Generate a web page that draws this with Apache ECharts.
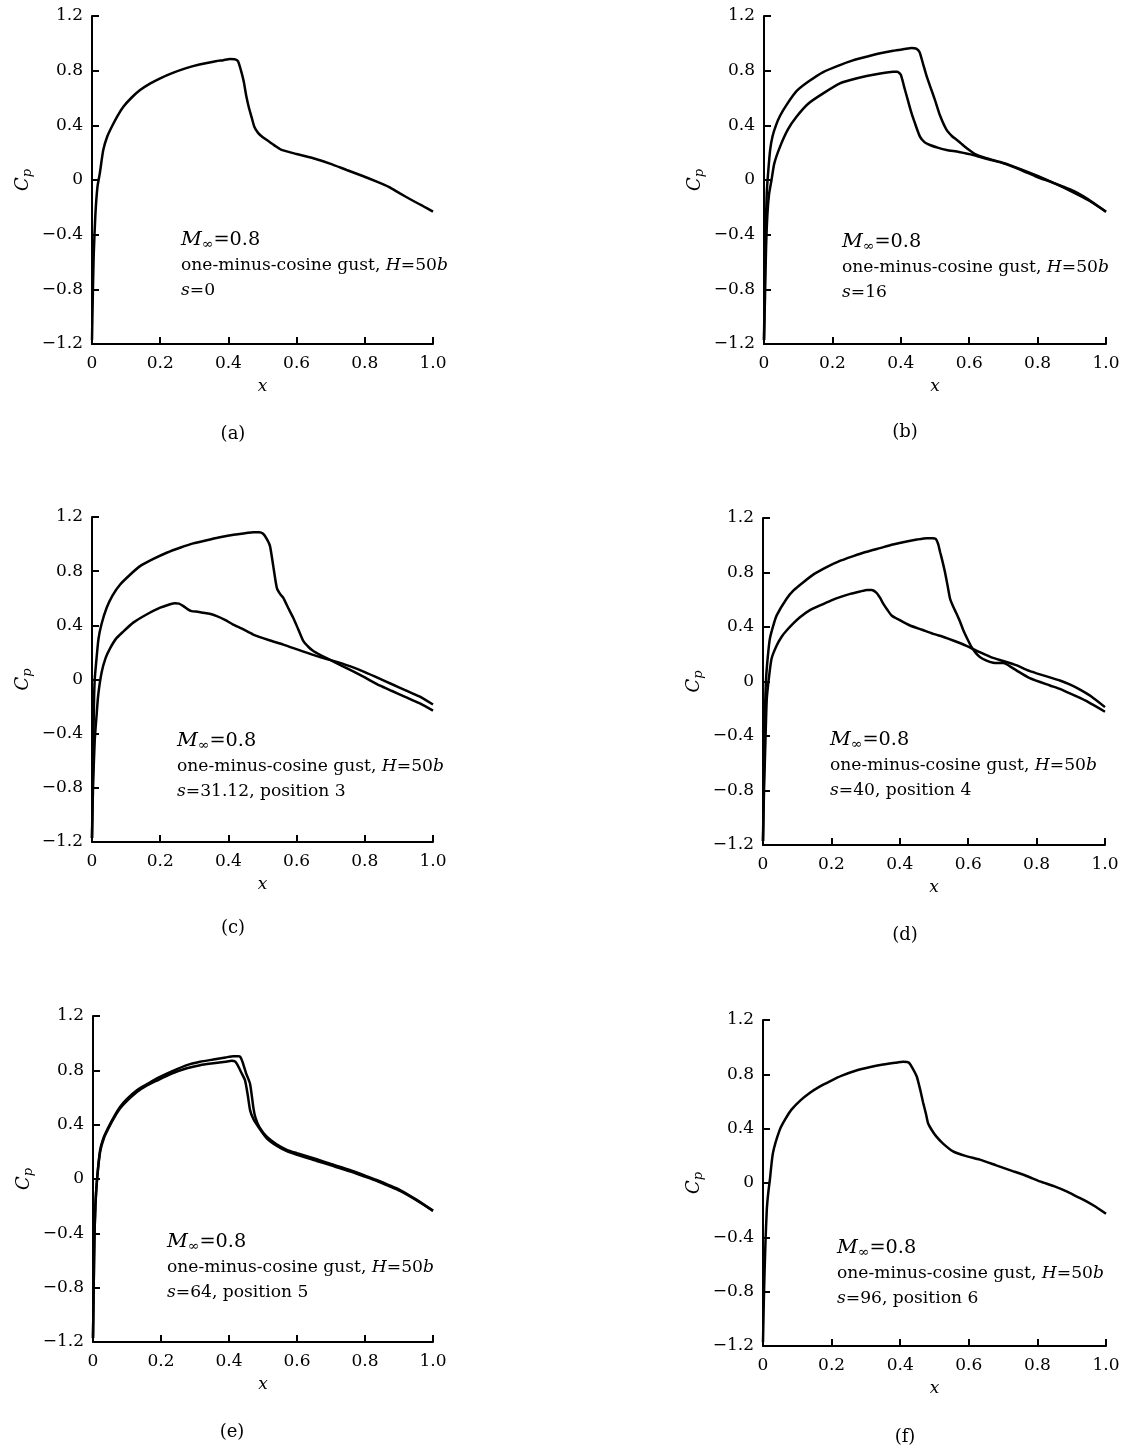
<!DOCTYPE html>
<html>
<head>
<meta charset="utf-8">
<script src="https://cdn.jsdelivr.net/npm/echarts@6/dist/echarts.min.js"></script>
<style>
  html, body { margin: 0; padding: 0; background: #fff; }
  #main { width: 1123px; height: 1448px; }
</style>
</head>
<body>
<div id="main"></div>
<script>
// ---- data (x = chord position, cp = pressure coefficient) ----
// (a) s = 0
var xA  = [0, 0.002, 0.005, 0.01, 0.016, 0.023, 0.033, 0.045, 0.058, 0.075, 0.092, 0.115, 0.141, 0.17, 0.2, 0.235, 0.274, 0.315, 0.356, 0.385, 0.405, 0.418, 0.428, 0.437, 0.445, 0.452, 0.46, 0.468, 0.476, 0.487, 0.5, 0.52, 0.54, 0.556, 0.6, 0.649, 0.7, 0.747, 0.79, 0.835, 0.87, 0.903, 0.94, 0.97, 1.0];
var cpA = [-1.17, -0.9, -0.55, -0.25, -0.05, 0.05, 0.22, 0.32, 0.39, 0.47, 0.536, 0.6, 0.658, 0.705, 0.744, 0.782, 0.817, 0.845, 0.866, 0.877, 0.885, 0.884, 0.87, 0.80, 0.72, 0.62, 0.53, 0.46, 0.39, 0.345, 0.315, 0.28, 0.245, 0.22, 0.19, 0.159, 0.118, 0.073, 0.033, -0.012, -0.05, -0.098, -0.15, -0.19, -0.232];

// (b) s = 16
var xBu  = [0, 0.002, 0.004, 0.008, 0.012, 0.018, 0.025, 0.035, 0.047, 0.066, 0.095, 0.13, 0.173, 0.222, 0.26, 0.3, 0.34, 0.378, 0.41, 0.432, 0.445, 0.455, 0.465, 0.476, 0.488, 0.5, 0.515, 0.534, 0.55, 0.563, 0.575, 0.593, 0.617, 0.65, 0.7, 0.75, 0.8, 0.85, 0.9, 0.95, 1.0];
var cpBu = [-1.17, -0.8, -0.45, -0.1, 0.05, 0.22, 0.32, 0.4, 0.47, 0.55, 0.65, 0.72, 0.79, 0.841, 0.875, 0.902, 0.927, 0.946, 0.958, 0.966, 0.962, 0.935, 0.85, 0.756, 0.67, 0.585, 0.47, 0.366, 0.32, 0.295, 0.27, 0.232, 0.19, 0.16, 0.125, 0.08, 0.03, -0.025, -0.085, -0.15, -0.232];
var xBl  = [0, 0.003, 0.006, 0.01, 0.015, 0.022, 0.03, 0.047, 0.07, 0.095, 0.13, 0.173, 0.222, 0.25, 0.3, 0.34, 0.378, 0.39, 0.4, 0.41, 0.42, 0.43, 0.44, 0.456, 0.47, 0.485, 0.51, 0.534, 0.57, 0.612, 0.65, 0.7, 0.75, 0.797, 0.84, 0.875, 0.905, 0.934, 0.965, 1.0];
var cpBl = [-1.17, -0.85, -0.5, -0.25, -0.1, 0.0, 0.12, 0.244, 0.37, 0.463, 0.56, 0.634, 0.707, 0.73, 0.761, 0.78, 0.792, 0.792, 0.77, 0.68, 0.59, 0.5, 0.425, 0.317, 0.275, 0.256, 0.235, 0.22, 0.205, 0.183, 0.155, 0.122, 0.075, 0.024, -0.015, -0.049, -0.08, -0.12, -0.17, -0.232];

// (c) s = 31.12
var xCu  = [0, 0.002, 0.004, 0.006, 0.008, 0.012, 0.019, 0.028, 0.043, 0.06, 0.082, 0.11, 0.141, 0.18, 0.219, 0.26, 0.297, 0.34, 0.375, 0.42, 0.473, 0.49, 0.502, 0.512, 0.522, 0.532, 0.542, 0.552, 0.561, 0.575, 0.59, 0.605, 0.62, 0.635, 0.649, 0.67, 0.698, 0.73, 0.766, 0.8, 0.845, 0.88, 0.92, 0.96, 1.0];
var cpCu = [-1.17, -0.8, -0.45, -0.15, 0.0, 0.12, 0.3, 0.41, 0.53, 0.62, 0.70, 0.77, 0.837, 0.89, 0.936, 0.975, 1.005, 1.03, 1.05, 1.07, 1.088, 1.088, 1.076, 1.04, 0.985, 0.83, 0.677, 0.63, 0.603, 0.53, 0.456, 0.37, 0.283, 0.24, 0.21, 0.18, 0.145, 0.105, 0.06, 0.015, -0.046, -0.085, -0.13, -0.175, -0.23];
var xCl  = [0, 0.003, 0.008, 0.013, 0.018, 0.028, 0.04, 0.053, 0.07, 0.09, 0.121, 0.16, 0.2, 0.229, 0.243, 0.255, 0.268, 0.28, 0.292, 0.31, 0.326, 0.345, 0.366, 0.39, 0.414, 0.44, 0.473, 0.52, 0.561, 0.61, 0.659, 0.698, 0.718, 0.76, 0.8, 0.845, 0.88, 0.92, 0.96, 1.0];
var cpCl = [-1.17, -0.8, -0.45, -0.28, -0.12, 0.05, 0.16, 0.23, 0.3, 0.35, 0.42, 0.48, 0.53, 0.556, 0.564, 0.56, 0.542, 0.52, 0.505, 0.5, 0.493, 0.485, 0.468, 0.44, 0.406, 0.375, 0.332, 0.29, 0.258, 0.215, 0.173, 0.145, 0.13, 0.095, 0.055, 0.005, -0.035, -0.08, -0.125, -0.185];

// (d) s = 40
var xDu  = [0, 0.002, 0.004, 0.006, 0.009, 0.014, 0.02, 0.03, 0.04, 0.069, 0.09, 0.118, 0.15, 0.186, 0.22, 0.264, 0.3, 0.342, 0.38, 0.42, 0.45, 0.479, 0.495, 0.505, 0.512, 0.518, 0.525, 0.532, 0.54, 0.547, 0.556, 0.566, 0.576, 0.586, 0.598, 0.61, 0.622, 0.634, 0.652, 0.673, 0.688, 0.703, 0.72, 0.742, 0.78, 0.839, 0.868, 0.917, 0.95, 1.0];
var cpDu = [-1.17, -0.8, -0.45, -0.2, 0.02, 0.18, 0.313, 0.41, 0.485, 0.607, 0.67, 0.729, 0.79, 0.84, 0.88, 0.92, 0.95, 0.979, 1.005, 1.028, 1.042, 1.052, 1.052, 1.047, 1.01, 0.949, 0.88, 0.803, 0.7, 0.607, 0.55, 0.497, 0.44, 0.374, 0.31, 0.252, 0.21, 0.18, 0.155, 0.137, 0.135, 0.135, 0.115, 0.08, 0.025, -0.029, -0.054, -0.11, -0.15, -0.222];
var xDl  = [0, 0.003, 0.007, 0.011, 0.017, 0.025, 0.04, 0.055, 0.069, 0.09, 0.108, 0.135, 0.167, 0.2, 0.225, 0.255, 0.284, 0.305, 0.318, 0.332, 0.342, 0.352, 0.364, 0.376, 0.4, 0.43, 0.465, 0.498, 0.53, 0.556, 0.595, 0.634, 0.67, 0.703, 0.74, 0.771, 0.8, 0.839, 0.868, 0.9, 0.927, 0.96, 1.0];
var cpDl = [-1.17, -0.8, -0.45, -0.13, 0.02, 0.167, 0.264, 0.33, 0.374, 0.43, 0.472, 0.52, 0.558, 0.595, 0.619, 0.643, 0.661, 0.672, 0.672, 0.651, 0.615, 0.57, 0.525, 0.485, 0.45, 0.411, 0.38, 0.35, 0.325, 0.301, 0.262, 0.215, 0.175, 0.15, 0.12, 0.085, 0.06, 0.03, 0.007, -0.025, -0.06, -0.11, -0.188];

// (e) s = 64
var xEu  = [0, 0.002, 0.004, 0.007, 0.012, 0.021, 0.032, 0.046, 0.062, 0.08, 0.1, 0.129, 0.16, 0.188, 0.23, 0.276, 0.315, 0.354, 0.39, 0.413, 0.427, 0.433, 0.44, 0.45, 0.462, 0.472, 0.478, 0.49, 0.511, 0.54, 0.57, 0.6, 0.658, 0.7, 0.755, 0.8, 0.834, 0.87, 0.903, 0.95, 1.0];
var cpEu = [-1.17, -0.8, -0.45, -0.2, 0.0, 0.213, 0.31, 0.385, 0.46, 0.532, 0.59, 0.654, 0.7, 0.74, 0.79, 0.838, 0.863, 0.88, 0.895, 0.904, 0.904, 0.9, 0.86, 0.78, 0.70, 0.52, 0.45, 0.38, 0.311, 0.255, 0.215, 0.19, 0.145, 0.11, 0.066, 0.025, -0.007, -0.045, -0.081, -0.15, -0.233];
var xEl  = [0, 0.002, 0.004, 0.007, 0.012, 0.021, 0.032, 0.046, 0.062, 0.08, 0.1, 0.129, 0.16, 0.188, 0.23, 0.276, 0.315, 0.354, 0.39, 0.408, 0.418, 0.425, 0.435, 0.447, 0.455, 0.462, 0.472, 0.49, 0.511, 0.54, 0.57, 0.6, 0.658, 0.7, 0.755, 0.8, 0.834, 0.87, 0.903, 0.95, 1.0];
var cpEl = [-1.17, -0.8, -0.45, -0.2, 0.0, 0.2, 0.3, 0.375, 0.45, 0.52, 0.575, 0.64, 0.69, 0.725, 0.775, 0.815, 0.838, 0.852, 0.864, 0.87, 0.865, 0.84, 0.79, 0.728, 0.62, 0.507, 0.44, 0.37, 0.30, 0.245, 0.205, 0.178, 0.133, 0.1, 0.057, 0.017, -0.014, -0.052, -0.088, -0.155, -0.235];

// (f) s = 96
var xF  = [0, 0.003, 0.007, 0.011, 0.015, 0.02, 0.029, 0.049, 0.065, 0.083, 0.11, 0.136, 0.165, 0.195, 0.23, 0.272, 0.31, 0.35, 0.385, 0.409, 0.42, 0.426, 0.435, 0.448, 0.458, 0.467, 0.475, 0.481, 0.492, 0.505, 0.525, 0.554, 0.59, 0.632, 0.68, 0.73, 0.77, 0.807, 0.85, 0.885, 0.915, 0.943, 0.97, 1.0];
var cpF = [-1.17, -0.8, -0.45, -0.2, -0.08, 0.024, 0.221, 0.393, 0.47, 0.54, 0.61, 0.663, 0.71, 0.749, 0.79, 0.828, 0.852, 0.872, 0.885, 0.892, 0.891, 0.884, 0.85, 0.786, 0.69, 0.59, 0.51, 0.442, 0.39, 0.343, 0.29, 0.233, 0.2, 0.172, 0.13, 0.086, 0.05, 0.012, -0.025, -0.062, -0.1, -0.135, -0.175, -0.226];

// per-panel text
var sLabels  = ['=0', '=16', '=31.12, position 3', '=40, position 4', '=64, position 5', '=96, position 6'];
var captions = ['(a)', '(b)', '(c)', '(d)', '(e)', '(f)'];

// ---- layout ----
var SERIF = 'DejaVu Serif';
var panels = [
  { grid: {left: 92,  top: 16,   width: 341, height: 328}, curves: [[xA, cpA]],               note: [181, 240],  cap: [233, 434] },
  { grid: {left: 764, top: 16,   width: 342, height: 328}, curves: [[xBu, cpBu], [xBl, cpBl]], note: [842, 242],  cap: [905, 432] },
  { grid: {left: 92,  top: 517,  width: 341, height: 325}, curves: [[xCu, cpCu], [xCl, cpCl]], note: [177, 741],  cap: [233, 928] },
  { grid: {left: 763, top: 518,  width: 342, height: 327}, curves: [[xDu, cpDu], [xDl, cpDl]], note: [830, 740],  cap: [905, 935] },
  { grid: {left: 93,  top: 1016, width: 340, height: 326}, curves: [[xEu, cpEu], [xEl, cpEl]], note: [167, 1242], cap: [232, 1432] },
  { grid: {left: 763, top: 1020, width: 343, height: 326}, curves: [[xF, cpF]],               note: [837, 1248], cap: [905, 1437] }
];

function zip(xs, ys) {
  return xs.map(function (x, i) { return [x, ys[i]]; });
}

var grids = [], xAxes = [], yAxes = [], series = [], graphics = [];

var axisLineStyle = { show: true, onZero: false, lineStyle: { color: '#000', width: 2 } };
var tickStyle = { show: true, inside: true, length: 7, lineStyle: { color: '#000', width: 2 } };

panels.forEach(function (p, i) {
  grids.push(p.grid);

  xAxes.push({
    gridIndex: i, type: 'value', min: 0, max: 1, interval: 0.2,
    axisLine: axisLineStyle, axisTick: tickStyle, splitLine: { show: false },
    axisLabel: {
      color: '#000', fontFamily: SERIF, fontSize: 17, margin: 11,
      formatter: function (v) { return Math.abs(v) < 1e-9 ? '0' : v.toFixed(1); }
    },
    name: 'x', nameLocation: 'middle', nameGap: 34,
    nameTextStyle: { color: '#000', fontFamily: SERIF, fontStyle: 'italic', fontSize: 17 }
  });

  yAxes.push({
    gridIndex: i, type: 'value', min: -1.2, max: 1.2, interval: 0.4,
    axisLine: axisLineStyle, axisTick: tickStyle, splitLine: { show: false },
    axisLabel: {
      color: '#000', fontFamily: SERIF, fontSize: 17, margin: 9,
      formatter: function (v) {
        if (Math.abs(v) < 1e-9) return '0';
        return (v < 0 ? '\u2212' : '') + Math.abs(v).toFixed(1);
      }
    },
    name: '{c|C}{p|p}', nameLocation: 'middle', nameGap: 58, nameRotate: 90,
    nameTextStyle: {
      rich: {
        c: { color: '#000', fontFamily: SERIF, fontStyle: 'italic', fontSize: 18, lineHeight: 22 },
        p: { color: '#000', fontFamily: SERIF, fontStyle: 'italic', fontSize: 13, lineHeight: 13, verticalAlign: 'bottom' }
      }
    }
  });

  p.curves.forEach(function (c) {
    series.push({
      type: 'line', xAxisIndex: i, yAxisIndex: i,
      data: zip(c[0], c[1]),
      symbol: 'none', smooth: 0.2,
      lineStyle: { color: '#000', width: 2.5 },
      silent: true, animation: false
    });
  });

  // annotation block
  var nx = p.note[0], ny = p.note[1];
  var rich = {
    i:   { fontFamily: SERIF, fontStyle: 'italic', fontSize: 16, fill: '#000', lineHeight: 22 },
    big: { fontFamily: SERIF, fontStyle: 'italic', fontSize: 19, fill: '#000', lineHeight: 22 },
    sub: { fontFamily: SERIF, fontSize: 13, fill: '#000', lineHeight: 13, verticalAlign: 'bottom' },
    n:   { fontFamily: SERIF, fontSize: 16, fill: '#000', lineHeight: 22 },
    n2:  { fontFamily: SERIF, fontSize: 18, fill: '#000', lineHeight: 22 }
  };
  var lines = [
    '{big|M}{sub|\u221e}{n2|=0.8}',
    '{n|one-minus-cosine gust, }{i|H}{n|=50}{i|b}',
    '{i|s}{n|' + sLabels[i] + '}'
  ];
  lines.forEach(function (t, k) {
    graphics.push({
      type: 'text', x: nx, y: ny + k * 25.5, scaleX: 1.07, z: 100,
      style: { text: t, rich: rich, verticalAlign: 'middle', align: 'left', fill: '#000' }
    });
  });

  graphics.push({
    type: 'text', x: p.cap[0], y: p.cap[1], z: 100,
    style: { text: captions[i], font: '18px "' + SERIF + '"', fill: '#000', align: 'center', verticalAlign: 'middle' }
  });
});

var chart = echarts.init(document.getElementById('main'));
chart.setOption({
  backgroundColor: '#fff',
  animation: false,
  grid: grids,
  xAxis: xAxes,
  yAxis: yAxes,
  series: series,
  graphic: graphics
});
</script>
</body>
</html>
